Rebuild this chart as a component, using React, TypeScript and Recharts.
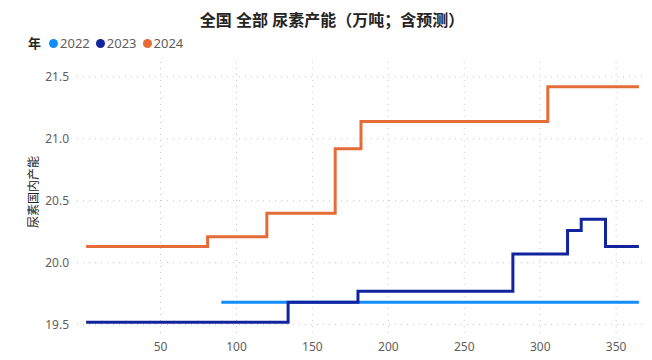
import { LineChart, Line, XAxis, YAxis, CartesianGrid } from 'recharts'

// day-of-year where capacity changes, and the value from that day on
const days2022 = [90, 365]
const vals2022 = [19.68, 19.68]

const days2023 = [1, 134, 180, 282, 318, 327, 343, 365]
const vals2023 = [19.52, 19.68, 19.77, 20.07, 20.26, 20.35, 20.13, 20.13]

const days2024 = [1, 81, 120, 165, 182, 305, 365]
const vals2024 = [20.13, 20.21, 20.40, 20.92, 21.14, 21.42, 21.42]

const xTicks = [50, 100, 150, 200, 250, 300, 350]
const yTicks = [19.5, 20.0, 20.5, 21.0, 21.5]

const SERIES = [
  { name: '2022', days: days2022, vals: vals2022, color: '#118DFF' },
  { name: '2023', days: days2023, vals: vals2023, color: '#12239E' },
  { name: '2024', days: days2024, vals: vals2024, color: '#E66C37' },
]

const FONT = '"Noto Sans", "Noto Sans CJK SC", sans-serif'

export default function App() {
  return (
    <div style={{ position: 'absolute', left: 0, top: 0, width: 652, height: 360, background: '#fff', fontFamily: FONT }}>
      <div style={{ position: 'absolute', left: 0, top: 8, width: 664, textAlign: 'center', fontSize: 16, fontWeight: 700, color: '#252423', lineHeight: '24px' }}>
        全国 全部 尿素产能（万吨；含预测）
      </div>

      <div style={{ position: 'absolute', left: 28, top: 35, display: 'flex', alignItems: 'center', fontSize: 13, color: '#605E5C', lineHeight: '16px' }}>
        <span style={{ fontWeight: 700, color: '#252423', marginRight: 8 }}>年</span>
        {SERIES.map(s => (
          <span key={s.name} style={{ display: 'flex', alignItems: 'center', marginRight: 6 }}>
            <span style={{ width: 9, height: 9, borderRadius: '50%', background: s.color, marginRight: 2 }} />
            {s.name}
          </span>
        ))}
      </div>

      <div style={{ position: 'absolute', left: 33, top: 192, transform: 'translate(-50%, -50%) rotate(-90deg)', whiteSpace: 'nowrap', fontSize: 12, color: '#252423' }}>
        尿素国内产能
      </div>

      <LineChart width={652} height={360} margin={{ top: 62, right: 7, bottom: 0, left: 17 }} style={{ position: 'absolute', left: 0, top: 0 }}>
        <CartesianGrid stroke="#C8C6C4" strokeDasharray="1 5" horizontalValues={yTicks} verticalValues={xTicks} />
        <XAxis
          type="number"
          dataKey="day"
          domain={[-5, 369]}
          ticks={xTicks}
          allowDataOverflow
          axisLine={false}
          tickLine={false}
          tickSize={0}
          tickMargin={5}
          height={23}
          tick={{ fontSize: 12, fill: '#605E5C', fontFamily: FONT }}
        />
        <YAxis
          type="number"
          domain={[19.4, 21.62]}
          ticks={yTicks}
          allowDataOverflow
          axisLine={false}
          tickLine={false}
          width={60}
          tickFormatter={(v: number) => v.toFixed(1)}
          tick={{ fontSize: 12, fill: '#605E5C', fontFamily: FONT }}
        />
        {SERIES.map(s => (
          <Line
            key={s.name}
            data={s.days.map((d, i) => ({ day: d, v: s.vals[i] }))}
            dataKey="v"
            type="stepAfter"
            stroke={s.color}
            strokeWidth={3}
            dot={false}
            isAnimationActive={false}
          />
        ))}
      </LineChart>
    </div>
  )
}
